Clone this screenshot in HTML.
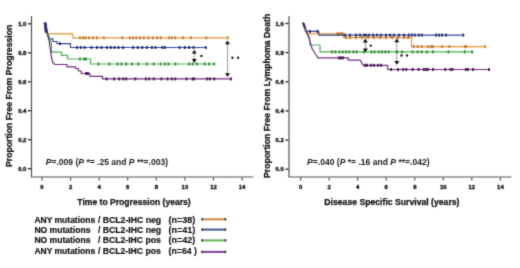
<!DOCTYPE html>
<html><head><meta charset="utf-8"><style>
html,body{margin:0;padding:0;background:#fff;}
body{width:520px;height:268px;overflow:hidden;position:relative;font-family:"Liberation Sans",sans-serif;}
svg{position:absolute;left:0;top:0;}
#w{position:absolute;left:0;top:0;width:520px;height:268px;}
text{font-family:"Liberation Sans",sans-serif;}
.tk{font-weight:bold;font-size:5.9px;fill:#111;stroke:#111;stroke-width:0.35px;}
.st{font-weight:bold;font-size:8px;fill:#222;}
.lab{font-weight:bold;font-size:8.7px;fill:#111;stroke:#111;stroke-width:0.25px;}
.labx{font-weight:bold;font-size:9.2px;fill:#111;stroke:#111;stroke-width:0.25px;}
.pv{font-size:9px;font-weight:bold;fill:#1a1a1a;}
.lg{font-weight:bold;font-size:9px;fill:#111;stroke:#111;stroke-width:0.2px;}
.ln{font-weight:bold;font-size:8.4px;fill:#111;stroke:#111;stroke-width:0.15px;}
</style></head><body>
<div id="w"><svg width="520" height="268" viewBox="0 0 520 268">
<defs><filter id="bl" x="0" y="0" width="520" height="268" filterUnits="userSpaceOnUse" color-interpolation-filters="sRGB"><feConvolveMatrix order="3" kernelMatrix="1 5 1 5 25 5 1 5 1" divisor="49" edgeMode="duplicate"/></filter></defs>
<g filter="url(#bl)"><rect x="0" y="0" width="520" height="268" fill="#fff"/>
<path d="M31.5 16.0 L31.5 177 L253.3 177" fill="none" stroke="#505050" stroke-width="1.2"/>
<line x1="27.9" y1="23.8" x2="30.9" y2="23.8" stroke="#222" stroke-width="1.3"/>
<text x="26.4" y="26.0" class="tk" text-anchor="end">1.0</text>
<line x1="27.9" y1="52.8" x2="30.9" y2="52.8" stroke="#222" stroke-width="1.3"/>
<text x="26.4" y="55.0" class="tk" text-anchor="end">0.8</text>
<line x1="27.9" y1="81.8" x2="30.9" y2="81.8" stroke="#222" stroke-width="1.3"/>
<text x="26.4" y="84.0" class="tk" text-anchor="end">0.6</text>
<line x1="27.9" y1="110.7" x2="30.9" y2="110.7" stroke="#222" stroke-width="1.3"/>
<text x="26.4" y="112.9" class="tk" text-anchor="end">0.4</text>
<line x1="27.9" y1="139.7" x2="30.9" y2="139.7" stroke="#222" stroke-width="1.3"/>
<text x="26.4" y="141.9" class="tk" text-anchor="end">0.2</text>
<line x1="27.9" y1="168.7" x2="30.9" y2="168.7" stroke="#222" stroke-width="1.3"/>
<text x="26.4" y="170.9" class="tk" text-anchor="end">0.0</text>
<line x1="42.0" y1="177.6" x2="42.0" y2="180.4" stroke="#444" stroke-width="1.1"/>
<text x="42.0" y="189" class="tk" text-anchor="middle">0</text>
<line x1="70.6" y1="177.6" x2="70.6" y2="180.4" stroke="#444" stroke-width="1.1"/>
<text x="70.6" y="189" class="tk" text-anchor="middle">2</text>
<line x1="99.2" y1="177.6" x2="99.2" y2="180.4" stroke="#444" stroke-width="1.1"/>
<text x="99.2" y="189" class="tk" text-anchor="middle">4</text>
<line x1="127.7" y1="177.6" x2="127.7" y2="180.4" stroke="#444" stroke-width="1.1"/>
<text x="127.7" y="189" class="tk" text-anchor="middle">6</text>
<line x1="156.3" y1="177.6" x2="156.3" y2="180.4" stroke="#444" stroke-width="1.1"/>
<text x="156.3" y="189" class="tk" text-anchor="middle">8</text>
<line x1="184.9" y1="177.6" x2="184.9" y2="180.4" stroke="#444" stroke-width="1.1"/>
<text x="184.9" y="189" class="tk" text-anchor="middle">10</text>
<line x1="213.5" y1="177.6" x2="213.5" y2="180.4" stroke="#444" stroke-width="1.1"/>
<text x="213.5" y="189" class="tk" text-anchor="middle">12</text>
<line x1="242.1" y1="177.6" x2="242.1" y2="180.4" stroke="#444" stroke-width="1.1"/>
<text x="242.1" y="189" class="tk" text-anchor="middle">14</text>
<path d="M43.8 23.5 L45.8 23.5 L46.8 33.8 L72.8 33.8 L72.8 37.8 L228.3 37.8" fill="none" stroke="#E8953A" stroke-width="1.2" stroke-linejoin="round"/>
<rect x="79.1" y="36.3" width="1.8" height="3.0" fill="#C8782A"/><rect x="82.2" y="36.3" width="1.8" height="3.0" fill="#C8782A"/><rect x="84.5" y="36.3" width="1.8" height="3.0" fill="#C8782A"/><rect x="88.3" y="36.3" width="1.8" height="3.0" fill="#C8782A"/><rect x="92.2" y="36.3" width="1.8" height="3.0" fill="#C8782A"/><rect x="96.0" y="36.3" width="1.8" height="3.0" fill="#C8782A"/><rect x="102.9" y="36.3" width="1.8" height="3.0" fill="#C8782A"/><rect x="121.4" y="36.3" width="1.8" height="3.0" fill="#C8782A"/><rect x="129.1" y="36.3" width="1.8" height="3.0" fill="#C8782A"/><rect x="132.2" y="36.3" width="1.8" height="3.0" fill="#C8782A"/><rect x="135.3" y="36.3" width="1.8" height="3.0" fill="#C8782A"/><rect x="139.1" y="36.3" width="1.8" height="3.0" fill="#C8782A"/><rect x="142.9" y="36.3" width="1.8" height="3.0" fill="#C8782A"/><rect x="147.6" y="36.3" width="1.8" height="3.0" fill="#C8782A"/><rect x="151.9" y="36.3" width="1.8" height="3.0" fill="#C8782A"/><rect x="156.2" y="36.3" width="1.8" height="3.0" fill="#C8782A"/><rect x="159.7" y="36.3" width="1.8" height="3.0" fill="#C8782A"/><rect x="168.3" y="36.3" width="1.8" height="3.0" fill="#C8782A"/><rect x="170.9" y="36.3" width="1.8" height="3.0" fill="#C8782A"/><rect x="174.4" y="36.3" width="1.8" height="3.0" fill="#C8782A"/><rect x="182.2" y="36.3" width="1.8" height="3.0" fill="#C8782A"/><rect x="190.0" y="36.3" width="1.8" height="3.0" fill="#C8782A"/><rect x="205.5" y="36.3" width="1.8" height="3.0" fill="#C8782A"/><rect x="226.9" y="36.3" width="1.8" height="3.0" fill="#C8782A"/>
<path d="M43.8 23.5 L45.8 23.5 L47.0 33.0 L49.0 38.8 L53.0 38.8 L53.0 41.5 L57.0 41.5 L57.0 43.7 L70.5 43.7 L70.5 47.5 L206.3 47.5" fill="none" stroke="#34468F" stroke-width="1.2" stroke-linejoin="round"/>
<rect x="59.1" y="42.2" width="1.8" height="3.0" fill="#22306E"/><rect x="76.0" y="46.0" width="1.8" height="3.0" fill="#22306E"/><rect x="79.9" y="46.0" width="1.8" height="3.0" fill="#22306E"/><rect x="83.7" y="46.0" width="1.8" height="3.0" fill="#22306E"/><rect x="90.6" y="46.0" width="1.8" height="3.0" fill="#22306E"/><rect x="96.0" y="46.0" width="1.8" height="3.0" fill="#22306E"/><rect x="100.6" y="46.0" width="1.8" height="3.0" fill="#22306E"/><rect x="106.0" y="46.0" width="1.8" height="3.0" fill="#22306E"/><rect x="109.9" y="46.0" width="1.8" height="3.0" fill="#22306E"/><rect x="113.7" y="46.0" width="1.8" height="3.0" fill="#22306E"/><rect x="117.6" y="46.0" width="1.8" height="3.0" fill="#22306E"/><rect x="122.2" y="46.0" width="1.8" height="3.0" fill="#22306E"/><rect x="132.2" y="46.0" width="1.8" height="3.0" fill="#22306E"/><rect x="136.8" y="46.0" width="1.8" height="3.0" fill="#22306E"/><rect x="141.4" y="46.0" width="1.8" height="3.0" fill="#22306E"/><rect x="146.0" y="46.0" width="1.8" height="3.0" fill="#22306E"/><rect x="151.0" y="46.0" width="1.8" height="3.0" fill="#22306E"/><rect x="154.5" y="46.0" width="1.8" height="3.0" fill="#22306E"/><rect x="161.4" y="46.0" width="1.8" height="3.0" fill="#22306E"/><rect x="164.0" y="46.0" width="1.8" height="3.0" fill="#22306E"/><rect x="178.7" y="46.0" width="1.8" height="3.0" fill="#22306E"/><rect x="183.9" y="46.0" width="1.8" height="3.0" fill="#22306E"/><rect x="188.2" y="46.0" width="1.8" height="3.0" fill="#22306E"/><rect x="192.6" y="46.0" width="1.8" height="3.0" fill="#22306E"/><rect x="204.9" y="46.0" width="1.8" height="3.0" fill="#22306E"/>
<path d="M43.8 23.5 L45.8 23.5 L47.5 33.0 L50.0 39.0 L51.5 44.0 L51.5 52.2 L61.5 52.2 L61.5 55.4 L67.6 55.4 L67.6 59.0 L90.6 59.0 L90.6 64.0 L214.8 64.0" fill="none" stroke="#4CB04A" stroke-width="1.2" stroke-linejoin="round"/>
<rect x="79.1" y="57.5" width="1.8" height="3.0" fill="#2E8A38"/><rect x="83.1" y="57.5" width="1.8" height="3.0" fill="#2E8A38"/><rect x="85.1" y="57.5" width="1.8" height="3.0" fill="#2E8A38"/><rect x="97.6" y="62.5" width="1.8" height="3.0" fill="#2E8A38"/><rect x="108.5" y="62.5" width="1.8" height="3.0" fill="#2E8A38"/><rect x="116.6" y="62.5" width="1.8" height="3.0" fill="#2E8A38"/><rect x="120.6" y="62.5" width="1.8" height="3.0" fill="#2E8A38"/><rect x="125.3" y="62.5" width="1.8" height="3.0" fill="#2E8A38"/><rect x="131.0" y="62.5" width="1.8" height="3.0" fill="#2E8A38"/><rect x="137.4" y="62.5" width="1.8" height="3.0" fill="#2E8A38"/><rect x="145.8" y="62.5" width="1.8" height="3.0" fill="#2E8A38"/><rect x="152.8" y="62.5" width="1.8" height="3.0" fill="#2E8A38"/><rect x="159.7" y="62.5" width="1.8" height="3.0" fill="#2E8A38"/><rect x="164.0" y="62.5" width="1.8" height="3.0" fill="#2E8A38"/><rect x="167.5" y="62.5" width="1.8" height="3.0" fill="#2E8A38"/><rect x="174.4" y="62.5" width="1.8" height="3.0" fill="#2E8A38"/><rect x="188.2" y="62.5" width="1.8" height="3.0" fill="#2E8A38"/><rect x="191.7" y="62.5" width="1.8" height="3.0" fill="#2E8A38"/><rect x="196.0" y="62.5" width="1.8" height="3.0" fill="#2E8A38"/><rect x="203.8" y="62.5" width="1.8" height="3.0" fill="#2E8A38"/><rect x="208.1" y="62.5" width="1.8" height="3.0" fill="#2E8A38"/><rect x="213.3" y="62.5" width="1.8" height="3.0" fill="#2E8A38"/>
<path d="M43.8 23.5 L45.8 23.5 L47.3 33.0 L49.3 42.0 L50.4 50.0 L51.6 58.0 L52.8 62.5 L55.0 64.5 L66.9 64.5 L66.9 66.9 L75.5 66.9 L75.5 68.5 L78.4 68.5 L78.4 71.0 L81.3 71.0 L81.3 73.5 L90.0 73.5 L90.0 76.3 L102.5 76.3 L102.5 78.9 L231.6 78.9" fill="none" stroke="#6E2C7E" stroke-width="1.2" stroke-linejoin="round"/>
<rect x="85.1" y="72.0" width="1.8" height="3.0" fill="#4A1255"/><rect x="87.1" y="72.0" width="1.8" height="3.0" fill="#4A1255"/><rect x="105.6" y="77.4" width="1.8" height="3.0" fill="#4A1255"/><rect x="113.1" y="77.4" width="1.8" height="3.0" fill="#4A1255"/><rect x="118.3" y="77.4" width="1.8" height="3.0" fill="#4A1255"/><rect x="122.4" y="77.4" width="1.8" height="3.0" fill="#4A1255"/><rect x="125.3" y="77.4" width="1.8" height="3.0" fill="#4A1255"/><rect x="134.5" y="77.4" width="1.8" height="3.0" fill="#4A1255"/><rect x="144.9" y="77.4" width="1.8" height="3.0" fill="#4A1255"/><rect x="148.3" y="77.4" width="1.8" height="3.0" fill="#4A1255"/><rect x="152.8" y="77.4" width="1.8" height="3.0" fill="#4A1255"/><rect x="160.5" y="77.4" width="1.8" height="3.0" fill="#4A1255"/><rect x="166.6" y="77.4" width="1.8" height="3.0" fill="#4A1255"/><rect x="170.9" y="77.4" width="1.8" height="3.0" fill="#4A1255"/><rect x="174.4" y="77.4" width="1.8" height="3.0" fill="#4A1255"/><rect x="185.6" y="77.4" width="1.8" height="3.0" fill="#4A1255"/><rect x="191.7" y="77.4" width="1.8" height="3.0" fill="#4A1255"/><rect x="193.4" y="77.4" width="1.8" height="3.0" fill="#4A1255"/><rect x="206.4" y="77.4" width="1.8" height="3.0" fill="#4A1255"/><rect x="209.1" y="77.4" width="1.8" height="3.0" fill="#4A1255"/><rect x="213.3" y="77.4" width="1.8" height="3.0" fill="#4A1255"/><rect x="230.0" y="77.4" width="1.8" height="3.0" fill="#4A1255"/>
<path d="M45.2 23.4 L46 31.5" stroke="#3b2a6e" stroke-width="2.8" stroke-linecap="round"/>
<line x1="194.3" y1="51.8" x2="194.3" y2="60.9" stroke="#222" stroke-width="0.9" stroke-dasharray="1 1"/><path d="M194.3 49.8 L191.8 53.6 L196.8 53.6 Z" fill="#111"/><path d="M194.3 62.9 L191.8 59.1 L196.8 59.1 Z" fill="#111"/>
<line x1="227.5" y1="42.4" x2="227.5" y2="75.0" stroke="#222" stroke-width="0.9" stroke-dasharray="1 1"/><path d="M227.5 40.4 L225.0 44.2 L230.0 44.2 Z" fill="#111"/><path d="M227.5 77.0 L225.0 73.2 L230.0 73.2 Z" fill="#111"/>
<circle cx="201.4" cy="55.9" r="1.2" fill="#1a1a1a"/>
<circle cx="232.5" cy="57.7" r="1.2" fill="#1a1a1a"/><circle cx="238.1" cy="57.7" r="1.2" fill="#1a1a1a"/>
<path d="M289.0 16.0 L289.0 177 L511.5 177" fill="none" stroke="#505050" stroke-width="1.2"/>
<line x1="285.4" y1="23.5" x2="288.4" y2="23.5" stroke="#222" stroke-width="1.3"/>
<text x="283.8" y="25.7" class="tk" text-anchor="end">1.0</text>
<line x1="285.4" y1="52.6" x2="288.4" y2="52.6" stroke="#222" stroke-width="1.3"/>
<text x="283.8" y="54.8" class="tk" text-anchor="end">0.8</text>
<line x1="285.4" y1="81.8" x2="288.4" y2="81.8" stroke="#222" stroke-width="1.3"/>
<text x="283.8" y="84.0" class="tk" text-anchor="end">0.6</text>
<line x1="285.4" y1="110.9" x2="288.4" y2="110.9" stroke="#222" stroke-width="1.3"/>
<text x="283.8" y="113.1" class="tk" text-anchor="end">0.4</text>
<line x1="285.4" y1="140.1" x2="288.4" y2="140.1" stroke="#222" stroke-width="1.3"/>
<text x="283.8" y="142.3" class="tk" text-anchor="end">0.2</text>
<line x1="285.4" y1="169.2" x2="288.4" y2="169.2" stroke="#222" stroke-width="1.3"/>
<text x="283.8" y="171.4" class="tk" text-anchor="end">0.0</text>
<line x1="300.6" y1="177.6" x2="300.6" y2="180.4" stroke="#444" stroke-width="1.1"/>
<text x="300.6" y="189" class="tk" text-anchor="middle">0</text>
<line x1="329.1" y1="177.6" x2="329.1" y2="180.4" stroke="#444" stroke-width="1.1"/>
<text x="329.1" y="189" class="tk" text-anchor="middle">2</text>
<line x1="357.7" y1="177.6" x2="357.7" y2="180.4" stroke="#444" stroke-width="1.1"/>
<text x="357.7" y="189" class="tk" text-anchor="middle">4</text>
<line x1="386.2" y1="177.6" x2="386.2" y2="180.4" stroke="#444" stroke-width="1.1"/>
<text x="386.2" y="189" class="tk" text-anchor="middle">6</text>
<line x1="414.8" y1="177.6" x2="414.8" y2="180.4" stroke="#444" stroke-width="1.1"/>
<text x="414.8" y="189" class="tk" text-anchor="middle">8</text>
<line x1="443.3" y1="177.6" x2="443.3" y2="180.4" stroke="#444" stroke-width="1.1"/>
<text x="443.3" y="189" class="tk" text-anchor="middle">10</text>
<line x1="471.8" y1="177.6" x2="471.8" y2="180.4" stroke="#444" stroke-width="1.1"/>
<text x="471.8" y="189" class="tk" text-anchor="middle">12</text>
<line x1="500.4" y1="177.6" x2="500.4" y2="180.4" stroke="#444" stroke-width="1.1"/>
<text x="500.4" y="189" class="tk" text-anchor="middle">14</text>
<path d="M302.5 23.5 L304.0 23.5 L305.5 31.0 L306.5 33.9 L343.5 33.9 L343.5 37.6 L411.5 37.6 L411.5 46.6 L485.3 46.6" fill="none" stroke="#E8953A" stroke-width="1.2" stroke-linejoin="round"/>
<rect x="336.1" y="32.4" width="1.8" height="3.0" fill="#C8782A"/><rect x="337.6" y="32.4" width="1.8" height="3.0" fill="#C8782A"/><rect x="339.1" y="32.4" width="1.8" height="3.0" fill="#C8782A"/><rect x="340.6" y="32.4" width="1.8" height="3.0" fill="#C8782A"/><rect x="342.1" y="32.4" width="1.8" height="3.0" fill="#C8782A"/><rect x="345.1" y="36.1" width="1.8" height="3.0" fill="#C8782A"/><rect x="349.1" y="36.1" width="1.8" height="3.0" fill="#C8782A"/><rect x="355.1" y="36.1" width="1.8" height="3.0" fill="#C8782A"/><rect x="361.1" y="36.1" width="1.8" height="3.0" fill="#C8782A"/><rect x="367.1" y="36.1" width="1.8" height="3.0" fill="#C8782A"/><rect x="373.1" y="36.1" width="1.8" height="3.0" fill="#C8782A"/><rect x="379.1" y="36.1" width="1.8" height="3.0" fill="#C8782A"/><rect x="385.1" y="36.1" width="1.8" height="3.0" fill="#C8782A"/><rect x="391.1" y="36.1" width="1.8" height="3.0" fill="#C8782A"/><rect x="397.1" y="36.1" width="1.8" height="3.0" fill="#C8782A"/><rect x="403.1" y="36.1" width="1.8" height="3.0" fill="#C8782A"/><rect x="407.1" y="36.1" width="1.8" height="3.0" fill="#C8782A"/><rect x="412.6" y="45.1" width="1.8" height="3.0" fill="#C8782A"/><rect x="416.7" y="45.1" width="1.8" height="3.0" fill="#C8782A"/><rect x="420.8" y="45.1" width="1.8" height="3.0" fill="#C8782A"/><rect x="427.0" y="45.1" width="1.8" height="3.0" fill="#C8782A"/><rect x="430.1" y="45.1" width="1.8" height="3.0" fill="#C8782A"/><rect x="432.1" y="45.1" width="1.8" height="3.0" fill="#C8782A"/><rect x="441.3" y="45.1" width="1.8" height="3.0" fill="#C8782A"/><rect x="448.5" y="45.1" width="1.8" height="3.0" fill="#C8782A"/><rect x="463.9" y="45.1" width="1.8" height="3.0" fill="#C8782A"/><rect x="465.1" y="45.1" width="1.8" height="3.0" fill="#C8782A"/><rect x="484.1" y="45.1" width="1.8" height="3.0" fill="#C8782A"/>
<path d="M302.5 23.5 L304.0 23.5 L305.5 31.4 L318.8 31.4 L318.8 35.1 L463.8 35.1" fill="none" stroke="#34468F" stroke-width="1.2" stroke-linejoin="round"/>
<rect x="309.1" y="29.9" width="1.8" height="3.0" fill="#22306E"/><rect x="316.6" y="29.9" width="1.8" height="3.0" fill="#22306E"/><rect x="344.1" y="33.6" width="1.8" height="3.0" fill="#22306E"/><rect x="349.1" y="33.6" width="1.8" height="3.0" fill="#22306E"/><rect x="355.1" y="33.6" width="1.8" height="3.0" fill="#22306E"/><rect x="359.1" y="33.6" width="1.8" height="3.0" fill="#22306E"/><rect x="363.1" y="33.6" width="1.8" height="3.0" fill="#22306E"/><rect x="365.1" y="33.6" width="1.8" height="3.0" fill="#22306E"/><rect x="368.1" y="33.6" width="1.8" height="3.0" fill="#22306E"/><rect x="372.1" y="33.6" width="1.8" height="3.0" fill="#22306E"/><rect x="376.1" y="33.6" width="1.8" height="3.0" fill="#22306E"/><rect x="380.1" y="33.6" width="1.8" height="3.0" fill="#22306E"/><rect x="385.1" y="33.6" width="1.8" height="3.0" fill="#22306E"/><rect x="389.1" y="33.6" width="1.8" height="3.0" fill="#22306E"/><rect x="393.1" y="33.6" width="1.8" height="3.0" fill="#22306E"/><rect x="398.1" y="33.6" width="1.8" height="3.0" fill="#22306E"/><rect x="403.1" y="33.6" width="1.8" height="3.0" fill="#22306E"/><rect x="408.1" y="33.6" width="1.8" height="3.0" fill="#22306E"/><rect x="411.1" y="33.6" width="1.8" height="3.0" fill="#22306E"/><rect x="414.1" y="33.6" width="1.8" height="3.0" fill="#22306E"/><rect x="418.1" y="33.6" width="1.8" height="3.0" fill="#22306E"/><rect x="421.1" y="33.6" width="1.8" height="3.0" fill="#22306E"/><rect x="435.1" y="33.6" width="1.8" height="3.0" fill="#22306E"/><rect x="438.1" y="33.6" width="1.8" height="3.0" fill="#22306E"/><rect x="441.1" y="33.6" width="1.8" height="3.0" fill="#22306E"/><rect x="445.1" y="33.6" width="1.8" height="3.0" fill="#22306E"/><rect x="462.4" y="33.6" width="1.8" height="3.0" fill="#22306E"/>
<path d="M302.5 23.5 L304.0 23.5 L306.0 30.0 L309.5 38.0 L310.0 45.0 L320.0 45.0 L320.0 51.9 L472.6 51.9" fill="none" stroke="#4CB04A" stroke-width="1.2" stroke-linejoin="round"/>
<rect x="331.1" y="50.4" width="1.8" height="3.0" fill="#2E8A38"/><rect x="334.5" y="50.4" width="1.8" height="3.0" fill="#2E8A38"/><rect x="338.6" y="50.4" width="1.8" height="3.0" fill="#2E8A38"/><rect x="341.9" y="50.4" width="1.8" height="3.0" fill="#2E8A38"/><rect x="345.1" y="50.4" width="1.8" height="3.0" fill="#2E8A38"/><rect x="348.4" y="50.4" width="1.8" height="3.0" fill="#2E8A38"/><rect x="352.5" y="50.4" width="1.8" height="3.0" fill="#2E8A38"/><rect x="355.8" y="50.4" width="1.8" height="3.0" fill="#2E8A38"/><rect x="363.1" y="50.4" width="1.8" height="3.0" fill="#2E8A38"/><rect x="370.5" y="50.4" width="1.8" height="3.0" fill="#2E8A38"/><rect x="373.7" y="50.4" width="1.8" height="3.0" fill="#2E8A38"/><rect x="377.8" y="50.4" width="1.8" height="3.0" fill="#2E8A38"/><rect x="381.1" y="50.4" width="1.8" height="3.0" fill="#2E8A38"/><rect x="384.4" y="50.4" width="1.8" height="3.0" fill="#2E8A38"/><rect x="387.6" y="50.4" width="1.8" height="3.0" fill="#2E8A38"/><rect x="395.8" y="50.4" width="1.8" height="3.0" fill="#2E8A38"/><rect x="401.1" y="50.4" width="1.8" height="3.0" fill="#2E8A38"/><rect x="411.6" y="50.4" width="1.8" height="3.0" fill="#2E8A38"/><rect x="416.7" y="50.4" width="1.8" height="3.0" fill="#2E8A38"/><rect x="420.8" y="50.4" width="1.8" height="3.0" fill="#2E8A38"/><rect x="425.9" y="50.4" width="1.8" height="3.0" fill="#2E8A38"/><rect x="432.1" y="50.4" width="1.8" height="3.0" fill="#2E8A38"/><rect x="447.5" y="50.4" width="1.8" height="3.0" fill="#2E8A38"/><rect x="463.9" y="50.4" width="1.8" height="3.0" fill="#2E8A38"/><rect x="471.3" y="50.4" width="1.8" height="3.0" fill="#2E8A38"/>
<path d="M302.5 23.5 L304.0 23.5 L306.0 30.0 L309.5 40.0 L312.0 48.4 L314.0 51.8 L316.0 55.0 L318.0 57.9 L348.3 57.9 L348.3 60.1 L360.2 60.1 L363.0 65.3 L387.7 65.3 L387.7 69.5 L489.5 69.5" fill="none" stroke="#6E2C7E" stroke-width="1.2" stroke-linejoin="round"/>
<rect x="338.1" y="56.4" width="1.8" height="3.0" fill="#4A1255"/><rect x="340.1" y="56.4" width="1.8" height="3.0" fill="#4A1255"/><rect x="342.1" y="56.4" width="1.8" height="3.0" fill="#4A1255"/><rect x="364.1" y="63.8" width="1.8" height="3.0" fill="#4A1255"/><rect x="366.1" y="63.8" width="1.8" height="3.0" fill="#4A1255"/><rect x="370.1" y="63.8" width="1.8" height="3.0" fill="#4A1255"/><rect x="373.1" y="63.8" width="1.8" height="3.0" fill="#4A1255"/><rect x="377.1" y="63.8" width="1.8" height="3.0" fill="#4A1255"/><rect x="380.1" y="63.8" width="1.8" height="3.0" fill="#4A1255"/><rect x="390.1" y="68.0" width="1.8" height="3.0" fill="#4A1255"/><rect x="397.1" y="68.0" width="1.8" height="3.0" fill="#4A1255"/><rect x="402.3" y="68.0" width="1.8" height="3.0" fill="#4A1255"/><rect x="405.4" y="68.0" width="1.8" height="3.0" fill="#4A1255"/><rect x="411.6" y="68.0" width="1.8" height="3.0" fill="#4A1255"/><rect x="417.7" y="68.0" width="1.8" height="3.0" fill="#4A1255"/><rect x="422.8" y="68.0" width="1.8" height="3.0" fill="#4A1255"/><rect x="424.9" y="68.0" width="1.8" height="3.0" fill="#4A1255"/><rect x="427.0" y="68.0" width="1.8" height="3.0" fill="#4A1255"/><rect x="432.1" y="68.0" width="1.8" height="3.0" fill="#4A1255"/><rect x="444.4" y="68.0" width="1.8" height="3.0" fill="#4A1255"/><rect x="449.5" y="68.0" width="1.8" height="3.0" fill="#4A1255"/><rect x="451.6" y="68.0" width="1.8" height="3.0" fill="#4A1255"/><rect x="464.9" y="68.0" width="1.8" height="3.0" fill="#4A1255"/><rect x="467.0" y="68.0" width="1.8" height="3.0" fill="#4A1255"/><rect x="472.1" y="68.0" width="1.8" height="3.0" fill="#4A1255"/><rect x="488.1" y="68.0" width="1.8" height="3.0" fill="#4A1255"/>
<path d="M303.1 23.3 L304.6 27.5" stroke="#3b2a5e" stroke-width="2" stroke-linecap="round"/>
<line x1="365.4" y1="40.6" x2="365.4" y2="50.2" stroke="#222" stroke-width="0.9" stroke-dasharray="1 1"/><path d="M365.4 38.6 L362.9 42.4 L367.9 42.4 Z" fill="#111"/><path d="M365.4 52.2 L362.9 48.4 L367.9 48.4 Z" fill="#111"/>
<line x1="396.8" y1="40.4" x2="396.8" y2="62.7" stroke="#222" stroke-width="0.9" stroke-dasharray="1 1"/><path d="M396.8 38.4 L394.3 42.2 L399.3 42.2 Z" fill="#111"/><path d="M396.8 64.7 L394.3 60.9 L399.3 60.9 Z" fill="#111"/>
<circle cx="370.8" cy="45.6" r="1.2" fill="#1a1a1a"/>
<circle cx="401.5" cy="55.5" r="1.2" fill="#1a1a1a"/><circle cx="407" cy="55.5" r="1.2" fill="#1a1a1a"/>
<text class="lab" transform="translate(12.2 95.8) rotate(-90)" text-anchor="middle">Proportion Free From Progression</text>
<text class="lab" transform="translate(269.7 95.9) rotate(-90)" text-anchor="middle">Proportion Free From Lymphoma Death</text>
<text class="labx" x="77.3" y="204.6" textLength="113.4" lengthAdjust="spacingAndGlyphs">Time to Progression (years)</text>
<text class="labx" x="324.3" y="204.6" textLength="135.2" lengthAdjust="spacingAndGlyphs">Disease Specific Survival (years)</text>
<text class="pv" x="45.8" y="164.8" textLength="122.2" lengthAdjust="spacingAndGlyphs"><tspan font-style="italic">P</tspan>=.009 (<tspan font-style="italic">P</tspan> *= .25 and <tspan font-style="italic">P</tspan> **=.003)</text>
<text class="pv" x="307.1" y="164.6" textLength="122.5" lengthAdjust="spacingAndGlyphs"><tspan font-style="italic">P</tspan>=.040 (<tspan font-style="italic">P</tspan> *= .16 and <tspan font-style="italic">P</tspan> **=.042)</text>
<text class="lg" x="34.4" y="223.2" textLength="60.8" lengthAdjust="spacingAndGlyphs">ANY mutations</text>
<text class="lg" x="34.4" y="233.1" textLength="56" lengthAdjust="spacingAndGlyphs">NO mutations</text>
<text class="lg" x="34.4" y="243.3" textLength="56" lengthAdjust="spacingAndGlyphs">NO mutations</text>
<text class="lg" x="34.4" y="253.6" textLength="60.8" lengthAdjust="spacingAndGlyphs">ANY mutations</text>
<text class="lg" x="97.9" y="223.2" textLength="63.3" lengthAdjust="spacingAndGlyphs">/ BCL2-IHC neg</text>
<text class="lg" x="97.9" y="233.1" textLength="63.3" lengthAdjust="spacingAndGlyphs">/ BCL2-IHC neg</text>
<text class="lg" x="97.9" y="243.3" textLength="62.9" lengthAdjust="spacingAndGlyphs">/ BCL2-IHC pos</text>
<text class="lg" x="97.9" y="253.6" textLength="62.9" lengthAdjust="spacingAndGlyphs">/ BCL2-IHC pos</text>
<text class="ln" x="168.6" y="223.2" textLength="26.7" lengthAdjust="spacingAndGlyphs">(n=38)</text>
<text class="ln" x="168.6" y="233.1" textLength="26.7" lengthAdjust="spacingAndGlyphs">(n=41)</text>
<text class="ln" x="168.6" y="243.3" textLength="26.7" lengthAdjust="spacingAndGlyphs">(n=42)</text>
<text class="ln" x="168.6" y="253.6" textLength="28.4" lengthAdjust="spacingAndGlyphs">(n=64 )</text>
<line x1="201.6" y1="219.3" x2="226" y2="219.3" stroke="#CC8638" stroke-width="2"/>
<line x1="201.6" y1="229.6" x2="226" y2="229.6" stroke="#3E5794" stroke-width="2"/>
<line x1="201.6" y1="240.4" x2="226" y2="240.4" stroke="#62B653" stroke-width="2"/>
<line x1="201.6" y1="251.9" x2="226" y2="251.9" stroke="#7B3FA6" stroke-width="2"/>
<g fill="#3a3030"><rect x="201.4" y="218.1" width="1.6" height="2.4"/><rect x="224.6" y="218.1" width="1.6" height="2.4"/>
<rect x="201.4" y="228.4" width="1.6" height="2.4"/><rect x="224.6" y="228.4" width="1.6" height="2.4"/>
<rect x="201.4" y="239.2" width="1.6" height="2.4"/><rect x="224.6" y="239.2" width="1.6" height="2.4"/>
<rect x="201.4" y="250.7" width="1.6" height="2.4"/><rect x="224.6" y="250.7" width="1.6" height="2.4"/></g>
</g></svg></div>
</body></html>
